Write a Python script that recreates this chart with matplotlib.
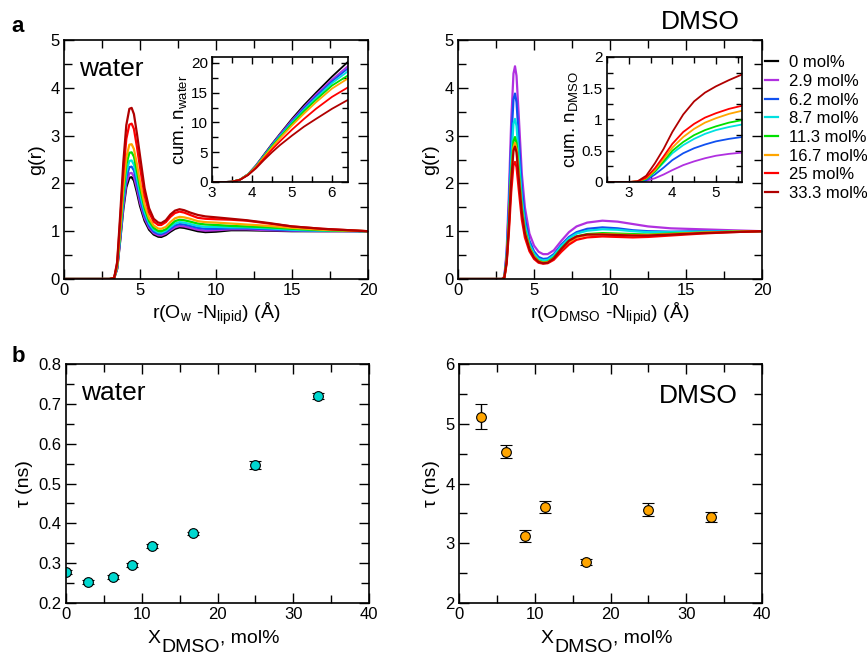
import numpy as np
import matplotlib
matplotlib.use("Agg")
import matplotlib.pyplot as plt
from matplotlib.ticker import MultipleLocator, FuncFormatter

plt.rcParams['font.family'] = ['Liberation Sans', 'DejaVu Sans']
plt.rcParams['mathtext.default'] = 'regular'

# legend / series
labels = ['0 mol%', '2.9 mol%', '6.2 mol%', '8.7 mol%', '11.3 mol%',
          '16.7 mol%', '25 mol%', '33.3 mol%']
colors = ['#000000', '#B030E0', '#1050F0', '#00E0E0', '#00E000',
          '#FFA500', '#FF0000', '#B00000']

# ---- panel a, water g(r)
r_w = [0, 3.0, 3.3, 3.5, 3.7, 3.9, 4.1, 4.3, 4.45, 4.6, 4.8, 5.0, 5.3, 5.6, 5.9,
       6.2, 6.4, 6.7, 7.0, 7.3, 7.6, 7.9, 8.3, 8.8, 9.3, 10.0, 11.0, 12.0, 13.5,
       15.0, 17.0, 20.0]
g_w0 = [0, 0, 0.02, 0.21, 0.81, 1.45, 1.92, 2.12, 2.13, 2.06, 1.81, 1.53, 1.22, 1.03,
        0.93, 0.885, 0.88, 0.92, 0.99, 1.05, 1.08, 1.07, 1.04, 1.0, 0.98, 0.99, 1.02,
        1.02, 1.01, 1.0, 1.0, 1.0]
g_w29 = [0, 0, 0.02, 0.22, 0.84, 1.51, 2.0, 2.21, 2.22, 2.14, 1.89, 1.60, 1.27, 1.07,
         0.96, 0.915, 0.91, 0.95, 1.02, 1.08, 1.11, 1.10, 1.07, 1.03, 1.01, 1.02, 1.04,
         1.04, 1.02, 1.01, 1.0, 1.0]
g_w62 = [0, 0, 0.02, 0.24, 0.89, 1.6, 2.12, 2.34, 2.35, 2.27, 2.0, 1.69, 1.33, 1.11,
         0.99, 0.945, 0.94, 0.98, 1.05, 1.12, 1.15, 1.14, 1.11, 1.07, 1.05, 1.05, 1.06,
         1.06, 1.04, 1.02, 1.01, 1.0]
g_w87 = [0, 0, 0.02, 0.25, 0.94, 1.69, 2.23, 2.47, 2.48, 2.39, 2.11, 1.79, 1.40, 1.16,
         1.03, 0.975, 0.97, 1.01, 1.09, 1.16, 1.19, 1.18, 1.15, 1.11, 1.09, 1.09, 1.08,
         1.08, 1.06, 1.03, 1.01, 1.0]
g_w113 = [0, 0, 0.02, 0.27, 1.01, 1.80, 2.39, 2.64, 2.65, 2.56, 2.25, 1.91, 1.48, 1.21,
          1.07, 1.005, 1.0, 1.04, 1.13, 1.21, 1.24, 1.23, 1.20, 1.16, 1.14, 1.13, 1.11,
          1.10, 1.08, 1.05, 1.02, 1.0]
g_w167 = [0, 0, 0.02, 0.28, 1.07, 1.92, 2.54, 2.81, 2.82, 2.72, 2.40, 2.03, 1.56, 1.27,
          1.12, 1.055, 1.05, 1.09, 1.19, 1.27, 1.30, 1.29, 1.26, 1.21, 1.19, 1.18, 1.16,
          1.14, 1.11, 1.07, 1.03, 1.0]
g_w25 = [0, 0, 0.02, 0.33, 1.24, 2.21, 2.93, 3.23, 3.25, 3.14, 2.76, 2.34, 1.75, 1.39,
         1.2, 1.13, 1.13, 1.19, 1.30, 1.38, 1.41, 1.39, 1.34, 1.28, 1.26, 1.25, 1.24,
         1.22, 1.16, 1.1, 1.05, 1.0]
g_w333 = [0, 0, 0.02, 0.36, 1.36, 2.43, 3.22, 3.56, 3.58, 3.45, 3.04, 2.58, 1.90, 1.48,
          1.26, 1.18, 1.17, 1.23, 1.35, 1.43, 1.46, 1.44, 1.39, 1.34, 1.31, 1.29, 1.26,
          1.23, 1.17, 1.1, 1.05, 1.0]

# ---- panel a, DMSO g(r) (no 0 mol% curve)
r_d = [0, 2.9, 3.05, 3.2, 3.35, 3.5, 3.65, 3.75, 3.85, 4.0, 4.2, 4.4, 4.7, 5.0, 5.3,
       5.6, 5.9, 6.3, 6.8, 7.3, 7.8, 8.5, 9.5, 10.5, 11.5, 12.5, 14.0, 16.0, 18.0, 20.0]
g_d29 = [0, 0, 0.05, 0.6, 1.8, 3.3, 4.3, 4.45, 4.25, 3.4, 2.2, 1.5, 0.95, 0.7, 0.57,
         0.52, 0.52, 0.6, 0.8, 0.98, 1.1, 1.18, 1.22, 1.2, 1.15, 1.1, 1.06, 1.04, 1.02, 1.0]
g_d62 = [0, 0, 0.04, 0.5, 1.55, 2.87, 3.76, 3.88, 3.7, 2.95, 1.9, 1.28, 0.8, 0.58, 0.46,
         0.42, 0.43, 0.52, 0.72, 0.88, 0.98, 1.05, 1.08, 1.06, 1.02, 1.0, 0.99, 1.0, 1.0, 1.0]
g_d87 = [0, 0, 0.03, 0.44, 1.34, 2.48, 3.25, 3.35, 3.2, 2.55, 1.67, 1.14, 0.73, 0.53, 0.42,
         0.39, 0.40, 0.49, 0.69, 0.85, 0.95, 1.01, 1.04, 1.03, 1.0, 0.98, 0.98, 0.99, 1.0, 1.0]
g_d113 = [0, 0, 0.03, 0.39, 1.19, 2.2, 2.88, 2.97, 2.84, 2.26, 1.49, 1.03, 0.67, 0.48, 0.38,
          0.35, 0.36, 0.45, 0.64, 0.80, 0.89, 0.94, 0.96, 0.95, 0.94, 0.93, 0.95, 0.97, 0.99, 1.0]
g_d167 = [0, 0, 0.03, 0.37, 1.14, 2.11, 2.76, 2.85, 2.72, 2.17, 1.43, 0.99, 0.65, 0.47, 0.37,
          0.34, 0.35, 0.43, 0.61, 0.77, 0.87, 0.92, 0.94, 0.93, 0.92, 0.92, 0.94, 0.97, 0.99, 1.0]
g_d25 = [0, 0, 0.02, 0.32, 0.98, 1.81, 2.38, 2.45, 2.34, 1.86, 1.24, 0.87, 0.58, 0.42, 0.34,
         0.32, 0.33, 0.40, 0.57, 0.72, 0.82, 0.87, 0.89, 0.88, 0.87, 0.88, 0.91, 0.95, 0.98, 1.0]
g_d333 = [0, 0, 0.03, 0.36, 1.11, 2.05, 2.69, 2.77, 2.65, 2.1, 1.39, 0.96, 0.63, 0.45, 0.36,
          0.33, 0.34, 0.43, 0.63, 0.80, 0.89, 0.93, 0.93, 0.92, 0.91, 0.91, 0.93, 0.96, 0.98, 1.0]

# ---- insets: cumulative numbers
rn_w = [3.0, 3.3, 3.5, 3.7, 3.9, 4.1, 4.3, 4.5, 4.7, 5.0, 5.3, 5.6, 6.0, 6.4]
n_w0 = [0, 0, 0.05, 0.4, 1.3, 2.8, 4.6, 6.4, 8.1, 10.6, 12.9, 15.0, 17.7, 20.2]
n_w29 = [0, 0, 0.05, 0.4, 1.3, 2.75, 4.5, 6.3, 8.0, 10.4, 12.6, 14.7, 17.2, 19.5]
n_w62 = [0, 0, 0.05, 0.4, 1.3, 2.7, 4.45, 6.2, 7.85, 10.2, 12.4, 14.4, 16.9, 19.1]
n_w87 = [0, 0, 0.05, 0.4, 1.28, 2.65, 4.35, 6.1, 7.7, 10.0, 12.1, 14.1, 16.6, 18.6]
n_w113 = [0, 0, 0.05, 0.4, 1.27, 2.6, 4.3, 6.0, 7.55, 9.8, 11.9, 13.8, 16.2, 17.9]
n_w167 = [0, 0, 0.05, 0.4, 1.25, 2.55, 4.2, 5.8, 7.35, 9.5, 11.5, 13.4, 15.7, 17.4]
n_w25 = [0, 0, 0.05, 0.38, 1.2, 2.45, 3.95, 5.45, 6.85, 8.8, 10.6, 12.3, 14.3, 15.9]
n_w333 = [0, 0, 0.05, 0.36, 1.15, 2.3, 3.7, 5.0, 6.2, 7.8, 9.3, 10.6, 12.3, 13.8]

rn_d = [2.5, 3.0, 3.2, 3.4, 3.6, 3.8, 4.0, 4.25, 4.5, 4.75, 5.0, 5.3, 5.6]
n_d29 = [0, 0, 0.0, 0.02, 0.06, 0.12, 0.19, 0.27, 0.33, 0.38, 0.42, 0.45, 0.47]
n_d62 = [0, 0, 0.0, 0.03, 0.12, 0.23, 0.35, 0.46, 0.54, 0.6, 0.65, 0.69, 0.72]
n_d87 = [0, 0, 0.005, 0.05, 0.16, 0.31, 0.46, 0.59, 0.69, 0.77, 0.83, 0.88, 0.92]
n_d113 = [0, 0, 0.005, 0.05, 0.17, 0.33, 0.50, 0.64, 0.75, 0.83, 0.89, 0.95, 0.99]
n_d167 = [0, 0, 0.01, 0.06, 0.19, 0.37, 0.55, 0.72, 0.85, 0.95, 1.02, 1.09, 1.14]
n_d25 = [0, 0, 0.01, 0.07, 0.22, 0.41, 0.61, 0.8, 0.93, 1.03, 1.1, 1.17, 1.22]
n_d333 = [0, 0, 0.01, 0.1, 0.3, 0.53, 0.80, 1.08, 1.29, 1.43, 1.53, 1.63, 1.72]

# ---- panel b: residence times
x_w = [0, 2.9, 6.2, 8.7, 11.3, 16.7, 25, 33.3]
tau_w = [0.278, 0.253, 0.265, 0.295, 0.342, 0.375, 0.546, 0.720]
err_w = [0.005, 0.005, 0.005, 0.005, 0.005, 0.004, 0.010, 0.007]
x_d = [2.9, 6.2, 8.7, 11.3, 16.7, 25, 33.3]
tau_d = [5.12, 4.53, 3.12, 3.60, 2.69, 3.56, 3.44]
err_d = [0.21, 0.11, 0.095, 0.10, 0.05, 0.11, 0.08]

fmt = FuncFormatter(lambda v, p: '%g' % round(v, 3))


def style(ax, xmaj, xmin, ymaj, ymin, size=12, tl=7):
    ax.xaxis.set_major_locator(MultipleLocator(xmaj))
    ax.xaxis.set_minor_locator(MultipleLocator(xmin))
    ax.yaxis.set_major_locator(MultipleLocator(ymaj))
    ax.yaxis.set_minor_locator(MultipleLocator(ymin))
    ax.xaxis.set_major_formatter(fmt)
    ax.yaxis.set_major_formatter(fmt)
    ax.tick_params(which='both', direction='in', top=True, right=True,
                   width=1.0, labelsize=size)
    ax.tick_params(which='major', length=tl, pad=3)
    ax.tick_params(which='minor', length=tl * 0.85)
    for s in ax.spines.values():
        s.set_linewidth(1.2)


def xdmso_label(ax):
    # X with a full-size lowered "DMSO" subscript, then ", mol%"
    tx = ax.annotate('X', xy=(0.5, 0), xycoords='axes fraction',
                     xytext=(-50, -29), textcoords='offset points',
                     fontsize=14, ha='left', va='baseline', annotation_clip=False)
    td = ax.annotate('DMSO', xy=(1, 0), xycoords=tx, xytext=(0.5, -3.5),
                     textcoords='offset points', fontsize=14, ha='left',
                     va='baseline', annotation_clip=False)
    ax.annotate(', mol%', xy=(1, 0), xycoords=td, xytext=(0, 9.5),
                textcoords='offset points', fontsize=14, ha='left',
                va='baseline', annotation_clip=False)


fig = plt.figure(figsize=(8.67, 6.55), dpi=100)
W, H = 867.0, 655.0


def axes_px(x0, y0, x1, y1):
    return fig.add_axes([x0 / W, 1 - y1 / H, (x1 - x0) / W, (y1 - y0) / H])


ax1 = axes_px(64, 40, 368, 279)
ax2 = axes_px(458, 40, 762, 279)
ax3 = axes_px(66, 364, 369, 603)
ax4 = axes_px(459, 364, 762, 603)

# water g(r)
gw = [g_w0, g_w29, g_w62, g_w87, g_w113, g_w167, g_w25, g_w333]
lines = []
for g, c, lab in zip(gw, colors, labels):
    ln, = ax1.plot(r_w, g, color=c, lw=1.6, label=lab)
    lines.append(ln)
ax1.set_xlim(0, 20)
ax1.set_ylim(0, 5)
style(ax1, 5, 2.5, 1, 0.5)
ax1.set_ylabel('g(r)', fontsize=14, labelpad=4)
ax1.set_xlabel(r'r(O$_{w}$ -N$_{lipid}$) (Å)', fontsize=14, labelpad=2)
ax1.text(0.05, 0.93, 'water', transform=ax1.transAxes, fontsize=19,
         va='top', ha='left')

# DMSO g(r)
gd = [g_d29, g_d62, g_d87, g_d113, g_d167, g_d25, g_d333]
for g, c in zip(gd, colors[1:]):
    ax2.plot(r_d, g, color=c, lw=1.6)
ax2.set_xlim(0, 20)
ax2.set_ylim(0, 5)
style(ax2, 5, 2.5, 1, 0.5)
ax2.set_ylabel('g(r)', fontsize=14, labelpad=4)
ax2.set_xlabel(r'r(O$_{DMSO}$ -N$_{lipid}$) (Å)', fontsize=14, labelpad=2)
ax2.legend(handles=lines, loc='upper left', bbox_to_anchor=(1.0, 0.95),
           frameon=False, fontsize=12, handlelength=0.75, handletextpad=0.65,
           labelspacing=0.22, borderaxespad=0.1, borderpad=0.1)
fig.text(700 / W, 1 - 22 / H, 'DMSO', fontsize=19, ha='center', va='center')

# insets
in1 = axes_px(212, 57, 348, 182)
nw = [n_w0, n_w29, n_w62, n_w87, n_w113, n_w167, n_w25, n_w333]
for n, c in zip(nw, colors):
    in1.plot(rn_w, n, color=c, lw=1.3)
in1.set_xlim(3, 6.4)
in1.set_ylim(0, 21)
style(in1, 1, 0.5, 5, 2.5, size=11, tl=5)
in1.set_ylabel(r'cum. n$_{water}$', fontsize=13.5, labelpad=1)

in2 = axes_px(607, 57, 742, 182)
nd = [n_d29, n_d62, n_d87, n_d113, n_d167, n_d25, n_d333]
for n, c in zip(nd, colors[1:]):
    in2.plot(rn_d, n, color=c, lw=1.3)
in2.set_xlim(2.5, 5.6)
in2.set_ylim(0, 2)
style(in2, 1, 0.5, 0.5, 0.25, size=11, tl=5)
in2.set_ylabel(r'cum. n$_{DMSO}$', fontsize=13.5, labelpad=1)

# tau panels
ax3.errorbar(x_w, tau_w, yerr=err_w, fmt='o', ms=7, mfc='#00D8D0', mec='black',
             mew=0.8, ecolor='black', elinewidth=1, capsize=4.5, capthick=1)
ax3.set_xlim(0, 40)
ax3.set_ylim(0.2, 0.8)
style(ax3, 10, 5, 0.1, 0.05)
ax3.set_ylabel('τ (ns)', fontsize=14, labelpad=4)
xdmso_label(ax3)
ax3.text(0.05, 0.93, 'water', transform=ax3.transAxes, fontsize=19,
         va='top', ha='left')

ax4.errorbar(x_d, tau_d, yerr=err_d, fmt='o', ms=7, mfc='#FFA500', mec='black',
             mew=0.8, ecolor='black', elinewidth=1, capsize=4.5, capthick=1)
ax4.set_xlim(0, 40)
ax4.set_ylim(2, 6)
style(ax4, 10, 5, 1, 0.5)
ax4.set_ylabel('τ (ns)', fontsize=14, labelpad=4)
xdmso_label(ax4)
ax4.text(0.92, 0.866, 'DMSO', transform=ax4.transAxes, fontsize=19,
         va='center', ha='right')

fig.text(18 / W, 1 - 27 / H, 'a', fontsize=16, fontweight='bold',
         ha='center', va='center')
fig.text(18 / W, 1 - 357 / H, 'b', fontsize=16, fontweight='bold',
         ha='center', va='center')

fig.savefig('out.png', dpi=100)
